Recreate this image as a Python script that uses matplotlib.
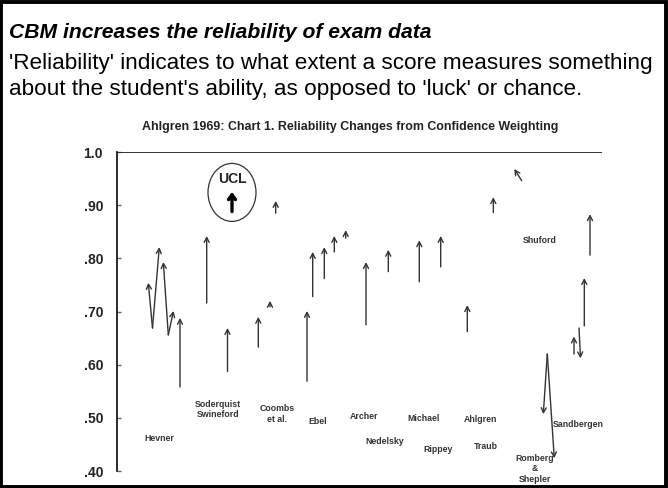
import matplotlib
matplotlib.use("Agg")
import matplotlib.pyplot as plt
from matplotlib.patches import Ellipse, Rectangle

# ---------------- data ----------------
# each arrow: study position (x), reliability before (tail) and after confidence weighting (head)
tail_x = [35.5, 35.5, 51.3, 51.3, 63.0, 89.7, 110.5, 141.3, 153.0, 158.7,
          190.0, 195.7, 207.3, 217.3, 228.7, 249.0, 271.3, 302.3, 323.7, 350.3,
          376.3, 404.7, 430.3, 430.3, 457.0, 462.0, 467.3, 473.0]
head_x = [31.3, 42.3, 46.3, 56.5, 63.0, 89.7, 110.5, 141.3, 153.0, 158.7,
          190.0, 195.7, 207.3, 217.3, 228.7, 249.0, 271.3, 302.3, 323.7, 350.3,
          376.3, 397.3, 426.3, 437.3, 457.0, 463.5, 467.3, 473.0]
rel_before = [0.669, 0.669, 0.656, 0.656, 0.558, 0.716, 0.587, 0.633, 0.709, 0.885,
              0.569, 0.728, 0.762, 0.812, 0.838, 0.675, 0.775, 0.756, 0.784, 0.662,
              0.886, 0.946, 0.620, 0.620, 0.620, 0.669, 0.673, 0.806]
rel_after = [0.754, 0.821, 0.793, 0.701, 0.688, 0.842, 0.669, 0.690, 0.720, 0.908,
             0.701, 0.812, 0.821, 0.842, 0.853, 0.793, 0.816, 0.834, 0.842, 0.712,
             0.915, 0.968, 0.507, 0.424, 0.653, 0.612, 0.763, 0.883]

study_labels = ["Hevner", "Soderquist\nSwineford", "Coombs\net al.", "Ebel", "Archer",
                "Nedelsky", "Michael", "Rippey", "Ahlgren", "Traub",
                "Romberg\n&\nShepler", "Sandbergen", "Shuford"]
label_x = [42, 101, 160, 201, 247, 268, 307, 321, 363, 369, 418, 461, 423]
label_y = [0.462, 0.516, 0.507, 0.494, 0.502, 0.455, 0.498, 0.441, 0.496, 0.447,
           0.404, 0.488, 0.833]

y_ticks = [0.40, 0.50, 0.60, 0.70, 0.80, 0.90, 1.0]
y_ticklabels = [".40", ".50", ".60", ".70", ".80", ".90", "1.0"]

ucl_x = 115
ucl_from, ucl_to = 0.888, 0.925

# ---------------- figure ----------------
W, H = 668, 488
fig = plt.figure(figsize=(W / 100, H / 100), dpi=100)
fig.patch.set_facecolor("white")

sans = ["Liberation Sans", "DejaVu Sans"]

fig.text(9 / W, 1 - 33 / H, "CBM increases the reliability of exam data",
         fontsize=15.2, fontweight="bold", fontstyle="italic", family=sans,
         va="center", ha="left", color="black")
fig.text(9 / W, 1 - 63 / H,
         "'Reliability' indicates to what extent a score measures something",
         fontsize=16.2, family=sans, va="center", ha="left", color="black")
fig.text(9 / W, 1 - 90 / H,
         "about the student's ability, as opposed to 'luck' or chance.",
         fontsize=16.2, family=sans, va="center", ha="left", color="black")
fig.text(350 / W, 1 - 127 / H,
         "Ahlgren 1969: Chart 1. Reliability Changes from Confidence Weighting",
         fontsize=8.9, fontweight="bold", family=sans, va="center", ha="center",
         color="#222222")

# border
fig.patches.append(Rectangle((0.002, 0.003), 0.995, 0.993, transform=fig.transFigure,
                             fill=False, lw=2.8, edgecolor="black"))

# axes: x in chart units from the left axis, y reliability
ax_left_px, ax_right_px = 117, 640
ax_top_px, ax_bot_px = 152, 486
px_per_unit = 531.7  # pixels per 1.0 reliability
ymin = 1.0 - (ax_bot_px - ax_top_px) / px_per_unit
ax = fig.add_axes([ax_left_px / W, 1 - ax_bot_px / H,
                   (ax_right_px - ax_left_px) / W, (ax_bot_px - ax_top_px) / H])
ax.set_xlim(0, ax_right_px - ax_left_px)
ax.set_ylim(ymin, 1.0)
ax.patch.set_alpha(0)
for s in ["top", "right", "bottom"]:
    ax.spines[s].set_visible(False)
ax.spines["left"].set_bounds(0.40, 1.0)
ax.spines["left"].set_color("#1a1a1a")
ax.spines["left"].set_linewidth(1.3)
ax.set_xticks([])
ax.set_yticks(y_ticks)
ax.set_yticklabels(y_ticklabels, fontsize=10, fontweight="bold", family=sans, color="#222222")
ax.tick_params(axis="y", direction="in", length=3, width=1, color="#666666", pad=10)

# top line at 1.0
ax.hlines(1.0, 0, 485, color="#333333", lw=1.4)

# arrows
for tx, hx, b, a in zip(tail_x, head_x, rel_before, rel_after):
    ax.annotate("", xy=(hx, a), xytext=(tx, b),
                arrowprops=dict(arrowstyle="->,head_length=0.35,head_width=0.18",
                                lw=1.0, color="#333333", shrinkA=0, shrinkB=0),
                annotation_clip=False)

# labels
for t, x, y in zip(study_labels, label_x, label_y):
    ax.text(x, y, t, ha="center", va="center", fontsize=6.3, fontweight="bold",
            family=sans, color="#333333", linespacing=1.2, clip_on=False)

# UCL
ax.add_patch(Ellipse((ucl_x, 0.924), 48, 58 / px_per_unit, fill=False,
                     edgecolor="#333333", lw=0.9, clip_on=False))
ax.text(ucl_x, 0.950, "UCL", ha="center", va="center", fontsize=10,
        fontweight="bold", family=sans, color="#222222")
ax.annotate("", xy=(ucl_x, ucl_to), xytext=(ucl_x, ucl_from),
            arrowprops=dict(arrowstyle="->,head_length=0.35,head_width=0.25",
                            lw=2.4, color="black", shrinkA=0, shrinkB=0))

fig.savefig("out.png", dpi=100, facecolor="white")
